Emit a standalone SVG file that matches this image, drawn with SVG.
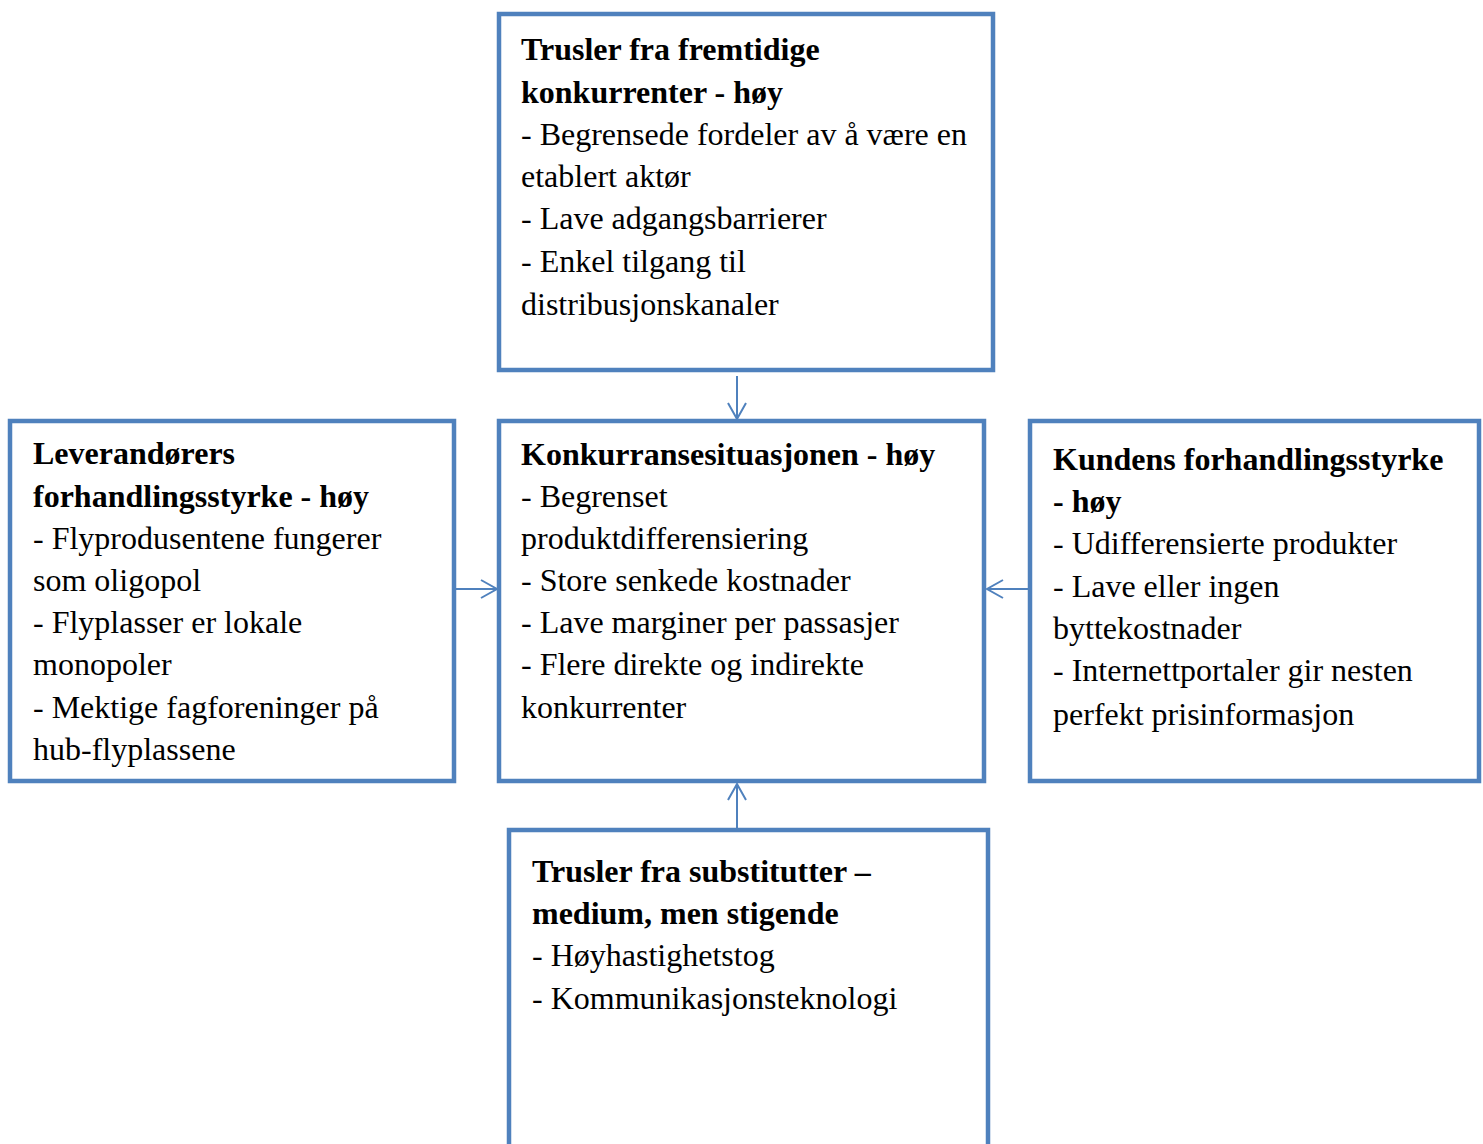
<svg xmlns="http://www.w3.org/2000/svg" width="1483" height="1144" viewBox="0 0 1483 1144">
<style>
.box{fill:#fff;stroke:#4F81BD;stroke-width:4.5}
.t{font-family:"Liberation Serif","Times New Roman",serif;font-size:32px;fill:#000}
.b{font-weight:bold}
.c{stroke:#4F81BD;stroke-width:2;fill:none}
</style>
<defs>
<marker id="arr" viewBox="0 0 20 20" refX="18" refY="10" markerWidth="20" markerHeight="20" markerUnits="userSpaceOnUse" orient="auto">
<path d="M2,1 L18,10 L2,19" fill="none" stroke="#4F81BD" stroke-width="2"/>
</marker>
</defs>
<g id="connectors">
<line class="c" x1="737" y1="376" x2="737" y2="419" marker-end="url(#arr)"/>
<line class="c" x1="456" y1="589" x2="497" y2="589" marker-end="url(#arr)"/>
<line class="c" x1="1029" y1="589" x2="987" y2="589" marker-end="url(#arr)"/>
<line class="c" x1="737" y1="828" x2="737" y2="784" marker-end="url(#arr)"/>
</g>
<g id="top">
<rect class="box" x="499" y="14" width="494" height="356"/>
<text class="t"><tspan class="b" x="521" y="60">Trusler fra fremtidige</tspan><tspan class="b" x="521" y="103">konkurrenter - høy</tspan><tspan x="521" y="145">- Begrensede fordeler av å være en</tspan><tspan x="521" y="187">etablert aktør</tspan><tspan x="521" y="229">- Lave adgangsbarrierer</tspan><tspan x="521" y="272">- Enkel tilgang til</tspan><tspan x="521" y="315">distribusjonskanaler</tspan></text>
</g>
<g id="center">
<rect class="box" x="499" y="421" width="485" height="360"/>
<text class="t"><tspan class="b" x="521" y="465">Konkurransesituasjonen - høy</tspan><tspan x="521" y="507">- Begrenset</tspan><tspan x="521" y="549">produktdifferensiering</tspan><tspan x="521" y="591">- Store senkede kostnader</tspan><tspan x="521" y="633">- Lave marginer per passasjer</tspan><tspan x="521" y="675">- Flere direkte og indirekte</tspan><tspan x="521" y="718">konkurrenter</tspan></text>
</g>
<g id="left">
<rect class="box" x="10" y="421" width="444" height="360"/>
<text class="t"><tspan class="b" x="33" y="464">Leverandørers</tspan><tspan class="b" x="33" y="507">forhandlingsstyrke - høy</tspan><tspan x="33" y="549">- Flyprodusentene fungerer</tspan><tspan x="33" y="591">som oligopol</tspan><tspan x="33" y="633">- Flyplasser er lokale</tspan><tspan x="33" y="675">monopoler</tspan><tspan x="33" y="718">- Mektige fagforeninger på</tspan><tspan x="33" y="760">hub-flyplassene</tspan></text>
</g>
<g id="right">
<rect class="box" x="1030" y="421" width="449" height="360"/>
<text class="t"><tspan class="b" x="1053" y="470">Kundens forhandlingsstyrke</tspan><tspan class="b" x="1053" y="512">- høy</tspan><tspan x="1053" y="554">- Udifferensierte produkter</tspan><tspan x="1053" y="597">- Lave eller ingen</tspan><tspan x="1053" y="639">byttekostnader</tspan><tspan x="1053" y="681">- Internettportaler gir nesten</tspan><tspan x="1053" y="725">perfekt prisinformasjon</tspan></text>
</g>
<g id="bottom">
<rect class="box" x="509" y="830" width="479" height="330"/>
<text class="t"><tspan class="b" x="532" y="882">Trusler fra substitutter –</tspan><tspan class="b" x="532" y="924">medium, men stigende</tspan><tspan x="532" y="966">- Høyhastighetstog</tspan><tspan x="532" y="1009">- Kommunikasjonsteknologi</tspan></text>
</g>
</svg>
